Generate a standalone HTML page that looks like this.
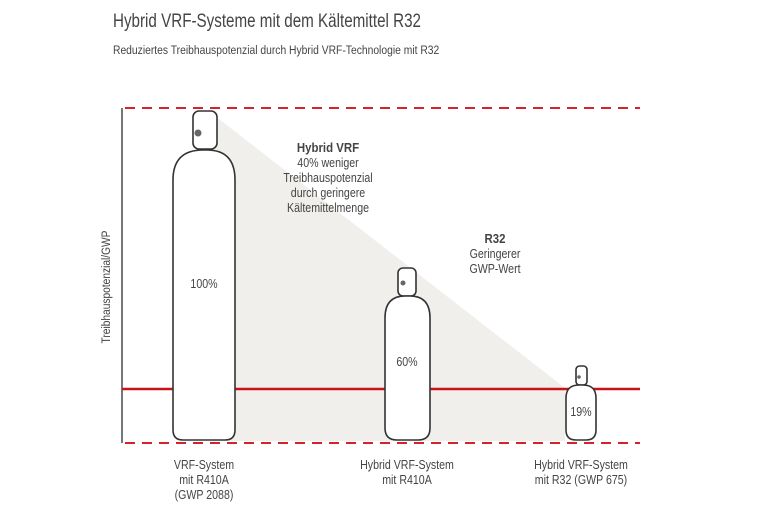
<!DOCTYPE html>
<html><head><meta charset="utf-8"><style>
body{margin:0;background:#fff;}
svg text{font-family:"Liberation Sans",sans-serif;fill:#444;}
</style></head><body>
<svg width="768" height="512" viewBox="0 0 768 512" xmlns="http://www.w3.org/2000/svg">
<text x="0" y="0" font-size="19" fill="#4a4a4a" transform="translate(113 27) scale(0.8 1)">Hybrid VRF-Systeme mit dem Kältemittel R32</text>
<text x="0" y="0" font-size="12" transform="translate(113 54) scale(0.86 1)">Reduziertes Treibhauspotenzial durch Hybrid VRF-Technologie mit R32</text>
<polygon points="210,112 565,388 565,441 210,441" fill="#f1efeb"/>
<line x1="122" y1="108" x2="122" y2="443" stroke="#777" stroke-width="2"/>
<line x1="125" y1="108" x2="640" y2="108" stroke="#d4232c" stroke-width="2" stroke-dasharray="10,7"/>
<line x1="125" y1="443" x2="640" y2="443" stroke="#d4232c" stroke-width="2" stroke-dasharray="10,7"/>
<line x1="122" y1="389" x2="640" y2="389" stroke="#c8121c" stroke-width="2.5"/>
<g fill="#fff" stroke="#333" stroke-width="1.6">
<rect x="193" y="111" width="24" height="38" rx="6"/>
<path d="M173,430 V180 Q173,150 203,150 H207 Q235,150 235,180 V430 Q235,440 225,440 H183 Q173,440 173,430 Z"/>
<rect x="398" y="268" width="18" height="28" rx="5"/>
<path d="M385,428 V318 Q385,296 405,296 H410 Q430,296 430,318 V428 Q430,440 418,440 H397 Q385,440 385,428 Z"/>
<rect x="576" y="366" width="11" height="19" rx="3.5"/>
<path d="M566,430 V398 Q566,385 579,385 H583 Q596,385 596,398 V430 Q596,440 586,440 H576 Q566,440 566,430 Z"/>
</g>
<circle cx="198" cy="133" r="3.5" fill="#666"/>
<circle cx="403" cy="283" r="2.5" fill="#666"/>
<circle cx="579" cy="377" r="1.8" fill="#666"/>
<g font-size="12.5" text-anchor="middle">
<text transform="translate(204 288) scale(0.85 1)">100%</text>
<text transform="translate(407 366) scale(0.85 1)">60%</text>
<text transform="translate(581 416) scale(0.85 1)">19%</text>
<text transform="translate(328 152) scale(0.88 1)" font-weight="bold" font-size="13">Hybrid VRF</text>
<text transform="translate(328 167) scale(0.85 1)">40% weniger</text>
<text transform="translate(328 182) scale(0.85 1)">Treibhauspotenzial</text>
<text transform="translate(328 197) scale(0.85 1)">durch geringere</text>
<text transform="translate(328 212) scale(0.85 1)">Kältemittelmenge</text>
<text transform="translate(495 243) scale(0.88 1)" font-weight="bold" font-size="13">R32</text>
<text transform="translate(495 258) scale(0.85 1)">Geringerer</text>
<text transform="translate(495 273) scale(0.85 1)">GWP-Wert</text>
<text transform="translate(204 469) scale(0.85 1)">VRF-System</text>
<text transform="translate(204 484) scale(0.85 1)">mit R410A</text>
<text transform="translate(204 499) scale(0.85 1)">(GWP 2088)</text>
<text transform="translate(407 469) scale(0.85 1)">Hybrid VRF-System</text>
<text transform="translate(407 484) scale(0.85 1)">mit R410A</text>
<text transform="translate(581 469) scale(0.85 1)">Hybrid VRF-System</text>
<text transform="translate(581 484) scale(0.85 1)">mit R32 (GWP 675)</text>
<text transform="translate(110 287) rotate(-90) scale(0.85 1)" font-size="12">Treibhauspotenzial/GWP</text>
</g>
</svg>
</body></html>
